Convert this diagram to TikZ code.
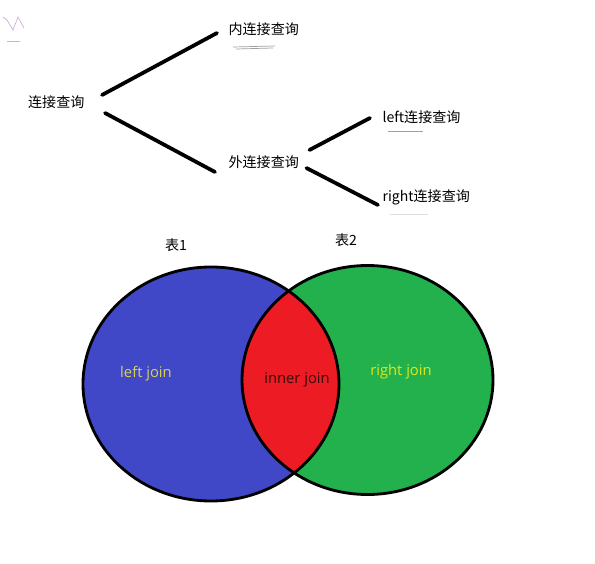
\documentclass[tikz,border=0pt]{standalone}
\usepackage{fontspec}
\setmainfont{Open Sans}
\newfontfamily\cjk{Noto Sans CJK SC}
\usetikzlibrary{positioning}
\definecolor{tblblue}{RGB}{64,72,200}
\definecolor{tblgreen}{RGB}{34,177,76}
\definecolor{tblred}{RGB}{237,28,36}
\definecolor{scribpurple}{RGB}{205,175,215}
\tikzset{lbl/.style={font=\cjk\fontsize{12}{14}\selectfont,inner sep=2pt},
  jn/.style={font=\fontsize{12.6}{14}\selectfont,inner sep=1pt},
  branch/.style={line width=3.2pt,line cap=round},
  rim/.style={line width=2.4pt},
  scrib/.style={line width=0.6pt,gray!75}}

\begin{document}
\begin{tikzpicture}[x=0.03cm,y=-0.03cm]
    \useasboundingbox (0,0) rectangle (595,563);

    % tree of join kinds
    \node[lbl,anchor=east] (root)at (87,102) {连接查询};
    \node[lbl,anchor=west] (inner)at (226,29) {内连接查询};
    \node[lbl,anchor=west] (outer)at (226,162) {外连接查询};
    \node[lbl,anchor=west] (left)at (380,117) {left连接查询};
    \node[lbl,anchor=west] (right)at (380,197) {right连接查询};

    \draw [branch] ([shift={(15,-7)}]root.east) -- ([shift={(-9,4)}]inner.west);
    \draw [branch] ([shift={(18,11)}]root.east) -- ([shift={(-11,10)}]outer.west);
    \draw [branch] ([shift={(8,-12)}]outer.east) -- ([shift={(-10,1)}]left.west);
    \draw [branch] ([shift={(5,6)}]outer.east) -- ([shift={(-2,8)}]right.west);

    % pen marks
    \draw [scribpurple,line width=0.6pt] (3,17) -- (7,20) -- (13,30) -- (18,17) -- (24,28);
    \draw [scribpurple,line width=0.6pt] (7,41) -- (20,41);
    \draw [scrib] (233,47) -- (275,46);
    \draw [scrib] (236,49) -- (273,48);
    \draw [scrib] (388,131) -- (423,131);
    \draw [gray!25,line width=0.6pt] (390,214) -- (428,214);

    % the two tables
    \fill [tblblue] (211,384) ellipse [x radius=128, y radius=117];
    \fill [tblgreen] (367.5,380) ellipse [x radius=125.5, y radius=114.5];
    \begin{scope}
        \clip (211,384) ellipse [x radius=128, y radius=117];
        \fill [tblred] (367.5,380) ellipse [x radius=125.5, y radius=114.5];
    \end{scope}
    \draw [rim] (211,384) ellipse [x radius=128, y radius=117];
    \draw [rim] (367.5,380) ellipse [x radius=125.5, y radius=114.5];

    \node[lbl] (t1)at (176,245) {表1};
    \node[lbl] (t2)at (346,240) {表2};
    \node[jn,text={rgb,255:red,215;green,212;blue,80}] (lj)at (146,374) {left join};
    \node[jn,text={rgb,255:red,50;green,10;blue,10}] (ij)at (297,380) {inner join};
    \node[jn,text={rgb,255:red,220;green,232;blue,30}] (rj)at (401,372) {right join};
\end{tikzpicture}
\end{document}
